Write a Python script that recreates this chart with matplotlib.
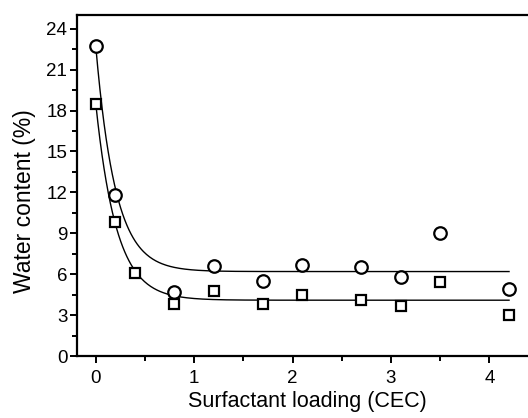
import numpy as np
import matplotlib
matplotlib.use('Agg')
import matplotlib.pyplot as plt
from matplotlib.ticker import MultipleLocator

plt.rcParams['font.family'] = ['Liberation Sans', 'DejaVu Sans']

# measured points
x_circ = [0.0, 0.2, 0.8, 1.2, 1.7, 2.1, 2.7, 3.1, 3.5, 4.2]
y_circ = [22.7, 11.8, 4.7, 6.6, 5.5, 6.7, 6.5, 5.8, 9.0, 4.9]
x_sq = [0.0, 0.2, 0.4, 0.8, 1.2, 1.7, 2.1, 2.7, 3.1, 3.5, 4.2]
y_sq = [18.5, 9.8, 6.1, 3.8, 4.8, 3.8, 4.5, 4.1, 3.7, 5.4, 3.0]

# exponential decay fits y = y0 + A*exp(-x/t), parameters
fit_circ = (6.2, 16.5, 0.20)
fit_sq = (4.1, 14.4, 0.21)
x_fit_max = 4.2

fig = plt.figure(figsize=(5.28, 4.18), dpi=100)
ax = fig.add_axes([0.146, 0.148, 0.874, 0.816])

xf = np.linspace(0, x_fit_max, 400)
for y0, A, t in (fit_circ, fit_sq):
    ax.plot(xf, y0 + A * np.exp(-xf / t), color='black', lw=1.0, zorder=2)

ax.plot(x_circ, y_circ, linestyle='none', marker='o', ms=9, mfc='white',
        mec='black', mew=1.6, zorder=3)
ax.plot(x_sq, y_sq, linestyle='none', marker='s', ms=7.5, mfc='white',
        mec='black', mew=1.6, zorder=3)

ax.set_xlim(-0.19, 4.5)
ax.set_ylim(0, 25)
ax.xaxis.set_major_locator(MultipleLocator(1))
ax.xaxis.set_minor_locator(MultipleLocator(0.5))
ax.yaxis.set_major_locator(MultipleLocator(3))
ax.yaxis.set_minor_locator(MultipleLocator(1.5))

for s in ['left', 'bottom', 'top']:
    ax.spines[s].set_linewidth(1.6)
ax.spines['right'].set_visible(False)
ax.tick_params(which='major', direction='out', length=5, width=1.4,
               labelsize=13.5, top=False, right=False)
ax.tick_params(which='major', axis='x', pad=5)
ax.tick_params(which='major', axis='y', pad=2)
ax.tick_params(which='minor', direction='out', length=3.5, width=1.4,
               top=False, right=False)

ax.set_xlabel('Surfactant loading (CEC)', fontsize=15.5, labelpad=3)
ax.set_ylabel('Water content (%)', fontsize=16.5)
ax.yaxis.set_label_coords(-0.09, 0.455)

fig.savefig('out.png', dpi=100)
